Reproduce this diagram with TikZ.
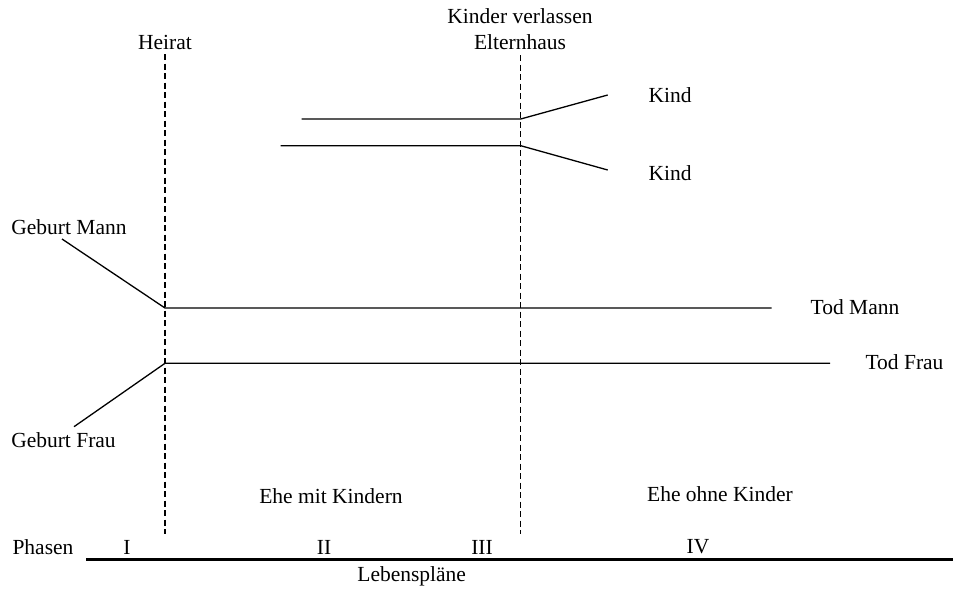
\documentclass[tikz,border=0pt]{standalone}
\usepackage{fontspec}
\setmainfont{Liberation Serif}
\begin{document}
\begin{tikzpicture}[x=1pt,y=-1pt,
  lbl/.style={inner sep=0pt, font=\fontsize{21.5}{26}\selectfont},
  life/.style={line width=1.3pt},
  epoch/.style={line width=1.1pt, dash pattern=on 6pt off 3.5pt},
  axis/.style={line width=2.4pt}]
\useasboundingbox (0,0) rectangle (961,589);

% event markers
\node[lbl] (heirat) at (165,42) {Heirat};
\node[lbl, align=center] (auszug) at (520,29) {Kinder verlassen\\Elternhaus};
\coordinate (h-top) at (165,54);
\coordinate (h-bot) at (165,534);
\coordinate (e-top) at (520.7,55);
\coordinate (e-bot) at (520.7,534);
\draw[epoch] (h-top) -- (h-bot);
\draw[epoch] (e-top) -- (e-bot);

% children
\coordinate (k1-start) at (301.7,119);
\coordinate (k1-split) at (520.7,119);
\coordinate (k1-end) at (607.7,95);
\coordinate (k2-start) at (280.7,145.7);
\coordinate (k2-split) at (520.7,145.7);
\coordinate (k2-end) at (607.7,170);
\node[lbl] (kind1) at (670,95) {Kind};
\node[lbl] (kind2) at (670,173) {Kind};
\draw[life] (k1-start) -- (k1-split) -- (k1-end);
\draw[life] (k2-start) -- (k2-split) -- (k2-end);

% husband
\node[lbl] (gm) at (69,227) {Geburt Mann};
\coordinate (gm-start) at (62,239);
\coordinate (m-join) at (165,308);
\coordinate (m-end) at (771.7,308);
\node[lbl] (tm) at (855,307) {Tod Mann};
\draw[life] (gm-start) -- (m-join) -- (m-end);

% wife
\node[lbl] (gf) at (63.5,440) {Geburt Frau};
\coordinate (gf-start) at (74,426.7);
\coordinate (f-join) at (165,363.3);
\coordinate (f-end) at (830,363.3);
\node[lbl] (tf) at (904.5,362) {Tod Frau};
\draw[life] (gf-start) -- (f-join) -- (f-end);

% marriage periods
\node[lbl] (mitk) at (331,496) {Ehe mit Kindern};
\node[lbl] (ohnek) at (720,494) {Ehe ohne Kinder};

% phases axis
\node[lbl] (phasen) at (43,547) {Phasen};
\node[lbl] (p1) at (127,547) {I};
\node[lbl] (p2) at (324,547) {II};
\node[lbl] (p3) at (482,547) {III};
\node[lbl] (p4) at (698,547) {IV};
\coordinate (ax-l) at (86,559.5);
\coordinate (ax-r) at (952.7,559.5);
\draw[axis] (ax-l) -- (ax-r);
\node[lbl] (plaene) at (411.7,576) {Lebenspläne};
\end{tikzpicture}
\end{document}
